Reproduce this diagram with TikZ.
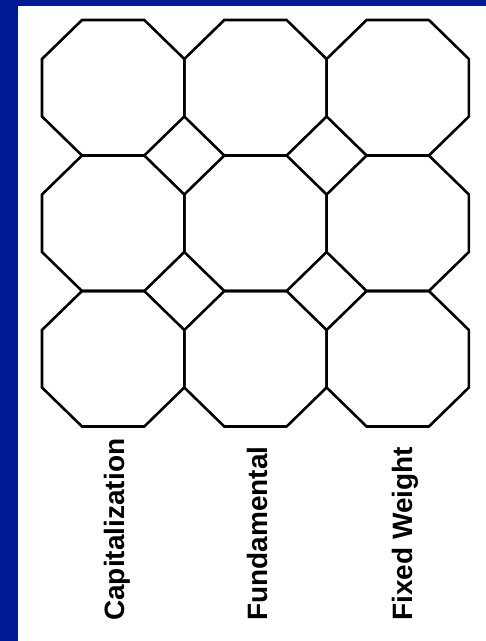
\documentclass[tikz,border=0pt]{standalone}
\usepackage{fontspec}
\setmainfont{Liberation Sans}
\usetikzlibrary{positioning}
\definecolor{framefill}{HTML}{001A94}
\tikzset{
  octline/.style = {draw=black, line width=2.6pt, line join=miter},
  axlbl/.style   = {font=\bfseries\fontsize{28}{30}\selectfont, rotate=90,
                     anchor=base west, inner sep=0pt},
}

\begin{document}
\begin{tikzpicture}[x=1pt, y=-1pt]
  % frame
  \fill[framefill] (0,0) rectangle (486,641);
  \fill[white] (18,6) rectangle (486,641);
  \useasboundingbox (0,0) rectangle (486,641);

  % octagon tiling, 3 x 3
  \foreach \col in {0,1,2} {
    \foreach \row in {0,1,2} {
      \pgfmathsetmacro{\xl}{42+142.3*\col}
      \pgfmathsetmacro{\yt}{20+135.5*\row}
      \draw[octline] (\xl+40,\yt) -- (\xl+102.3,\yt)
        -- (\xl+142.3,\yt+39) -- (\xl+142.3,\yt+96.5)
        -- (\xl+102.3,\yt+135.5) -- (\xl+40,\yt+135.5)
        -- (\xl,\yt+96.5) -- (\xl,\yt+39) -- cycle;
    }
  }

  % column labels
  \node[axlbl] (capl) at (124.5,621) {Capitalization};
  \node[axlbl] (fund) at (267,621) {Fundamental};
  \node[axlbl] (fixw) at (412,621) {Fixed Weight};
\end{tikzpicture}
\end{document}
